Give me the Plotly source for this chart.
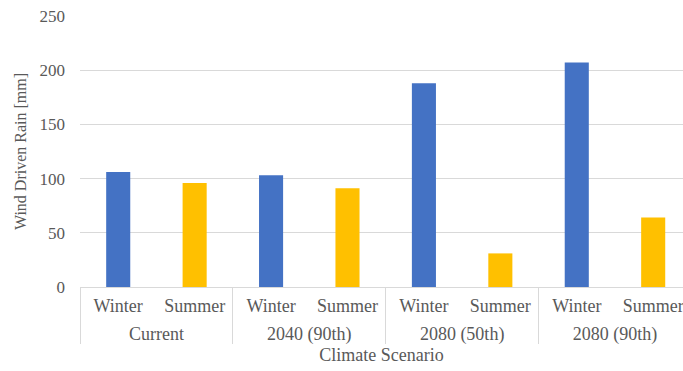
import plotly.graph_objects as go

scenarios = ["Current", "2040 (90th)", "2080 (50th)", "2080 (90th)"]
seasons = ["Winter", "Summer"]
winter_mm = [106, 103, 188, 207]
summer_mm = [96, 91, 31, 64]

y_ticks = [0, 50, 100, 150, 200, 250]

BLUE = "#4472C4"
GOLD = "#FFC000"
TEXT = "#595959"
GRID = "#d9d9d9"
FONT = "Liberation Serif, Times New Roman, serif"

# slot index of each (scenario, season) pair along the category axis
n_sea = len(seasons)
slot = {(g, s): gi * n_sea + si
        for gi, g in enumerate(scenarios) for si, s in enumerate(seasons)}
inner_pos = [slot[(g, s)] for g in scenarios for s in seasons]
inner_txt = [s for g in scenarios for s in seasons]
group_centres = [(slot[(g, seasons[0])] + slot[(g, seasons[-1])]) / 2 for g in scenarios]
group_edges = [slot[(g, seasons[0])] - 0.5 for g in scenarios] + [len(inner_pos) - 0.5]

fig = go.Figure()
fig.add_trace(go.Bar(
    x=[slot[(g, "Winter")] for g in scenarios],
    y=winter_mm,
    name="Winter",
    marker=dict(color=BLUE, line=dict(width=0)),
    width=0.315,
))
fig.add_trace(go.Bar(
    x=[slot[(g, "Summer")] for g in scenarios],
    y=summer_mm,
    name="Summer",
    marker=dict(color=GOLD, line=dict(width=0)),
    width=0.315,
))

x_range = [-0.5, 7.39]

fig.update_layout(
    width=683,
    height=371,
    margin=dict(l=80, r=0, t=16, b=84),
    paper_bgcolor="white",
    plot_bgcolor="white",
    barmode="overlay",
    showlegend=False,
    font=dict(family=FONT, color=TEXT, size=16),
    # season labels, directly under the baseline
    xaxis=dict(
        range=x_range,
        tickmode="array",
        tickvals=inner_pos,
        ticktext=inner_txt,
        showline=True,
        linecolor=GRID,
        linewidth=1,
        showgrid=False,
        zeroline=False,
        ticks="",
        ticklabelstandoff=2,
        ticklabeloverflow="allow",
        tickfont=dict(family=FONT, color=TEXT, size=18),
    ),
    # scenario labels plus the group divider lines
    xaxis2=dict(
        overlaying="x",
        anchor="y",
        side="bottom",
        range=x_range,
        tickmode="array",
        tickvals=group_centres,
        ticktext=scenarios,
        showline=False,
        showgrid=False,
        zeroline=False,
        ticks="outside",
        ticklen=0,
        tickcolor="rgba(0,0,0,0)",
        ticklabelstandoff=30,
        ticklabeloverflow="allow",
        tickfont=dict(family=FONT, color=TEXT, size=18),
        minor=dict(
            tickmode="array",
            tickvals=group_edges,
            ticks="outside",
            ticklen=56,
            tickcolor=GRID,
            tickwidth=1,
            showgrid=False,
        ),
        title=dict(text="Climate Scenario", font=dict(family=FONT, color=TEXT, size=18), standoff=4),
    ),
    yaxis=dict(
        range=[0, 250],
        tickvals=y_ticks,
        showgrid=True,
        gridcolor=GRID,
        gridwidth=1,
        zeroline=False,
        showline=False,
        ticks="",
        ticklabelstandoff=14,
        tickfont=dict(family=FONT, color=TEXT, size=17),
        title=dict(text="Wind Driven Rain [mm]", font=dict(family=FONT, color=TEXT, size=16), standoff=8),
    ),
)

# invisible companion trace so the scenario axis is drawn
fig.add_trace(go.Bar(x=group_centres, y=[None] * len(scenarios), xaxis="x2",
                     showlegend=False, hoverinfo="skip"))

fig.write_html("out.html")
